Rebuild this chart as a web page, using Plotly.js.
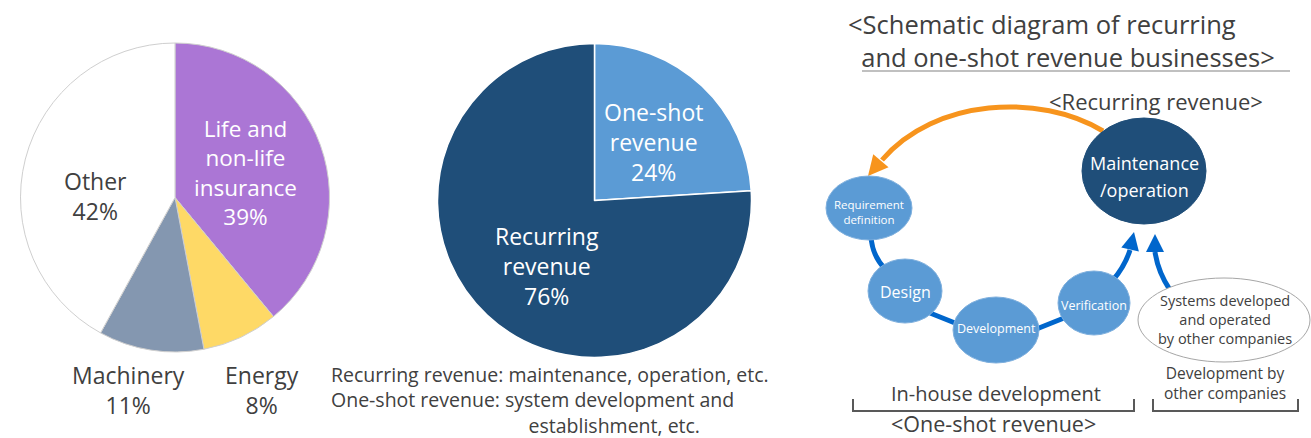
<!DOCTYPE html>
<html>
<head>
<meta charset="utf-8">
<script src="https://cdn.plot.ly/plotly-3.0.1.min.js"></script>
<style>html,body{margin:0;padding:0;background:#fff;}#chart{width:1311px;height:438px;}</style>
</head>
<body>
<div id="chart"></div>
<script>
// ---- data ----
const industryLabels = ['Life and<br>non-life<br>insurance', 'Energy', 'Machinery', 'Other'];
const industryShares = [39, 8, 11, 42];
const industryColors = ['#AB76D5', '#FED966', '#8497B0', '#FFFFFF'];

const revenueLabels = ['One-shot<br>revenue', 'Recurring<br>revenue'];
const revenueShares = [24, 76];
const revenueColors = ['#5B9BD5', '#1F4E79'];

const captionLines = ['Recurring revenue: maintenance, operation, etc.', 'One-shot revenue: system development and', 'establishment, etc.'];
const schematicTitle = ['&lt;Schematic diagram of recurring', '&nbsp;&nbsp;and one-shot revenue businesses&gt;'];
const processSteps = ['Requirement<br>definition', 'Design', 'Development', 'Verification'];
const recurringStep = 'Maintenance<br>/operation';
const otherCompanies = 'Systems developed<br>and operated<br>by other companies';

// ---- helpers (pixel -> paper) ----
const W = 1311, H = 438;
const px = x => x / W;
const py = y => 1 - y / H;
const FONT = '"Open Sans", Lato, sans-serif';
const DARK = '#404040';

function pathStr(cmds) {
  return cmds.map(c => c[0] + ' ' + c.slice(1).map((v, i) => i % 2 === 0 ? px(v) : py(v)).join(' ')).join(' ');
}
function arrowHead(tx, ty, fx, fy, len, hw, color) {
  const dx = tx - fx, dy = ty - fy, d = Math.hypot(dx, dy);
  const ux = dx / d, uy = dy / d;
  const bx = tx - ux * len, by = ty - uy * len;
  const nx = -uy, ny = ux;
  return {type: 'path', xref: 'paper', yref: 'paper',
    path: pathStr([['M', tx, ty], ['L', bx + nx * hw, by + ny * hw], ['L', bx - nx * hw, by - ny * hw]]) + ' Z',
    fillcolor: color, line: {width: 0}};
}
function curve(cmds, color, width) {
  return {type: 'path', xref: 'paper', yref: 'paper', path: pathStr(cmds), line: {color: color, width: width}};
}
function ellipse(cx, cy, rx, ry, fill, lineColor, lw) {
  return {type: 'circle', xref: 'paper', yref: 'paper', x0: px(cx - rx), x1: px(cx + rx), y0: py(cy + ry), y1: py(cy - ry),
    fillcolor: fill, line: {color: lineColor, width: lw}};
}
function ann(text, x, y, size, color, extra) {
  return Object.assign({text: text, x: px(x), y: py(y), xref: 'paper', yref: 'paper', showarrow: false,
    xanchor: 'center', yanchor: 'middle', borderpad: 0, font: {family: FONT, size: size, color: color}}, extra || {});
}

// ---- traces ----
const traces = [
  {type: 'pie', labels: industryLabels, values: industryShares, sort: false, direction: 'clockwise', rotation: 0,
   marker: {colors: industryColors, line: {color: '#cfcfcf', width: 1}}, textinfo: 'none', hoverinfo: 'none',
   domain: {x: [px(20.5), px(329.5)], y: [py(352), py(43)]}},
  {type: 'pie', labels: revenueLabels, values: revenueShares, sort: false, direction: 'clockwise', rotation: 0,
   marker: {colors: revenueColors, line: {color: '#ffffff', width: 1.5}}, textinfo: 'none', hoverinfo: 'none',
   domain: {x: [px(437.5), px(751.5)], y: [py(357.5), py(43.5)]}}
];

// ---- annotations ----
const A = [];
// [x centre, y centre, colour, font size]
const pieLabelPos1 = [[245, 172, '#ffffff', 22.5], [262, 390, DARK, 23], [128, 390, DARK, 23], [95, 196, DARK, 23]];
const pieLabelPos2 = [[653, 142, '#ffffff', 23], [547, 266, '#ffffff', 23]];
industryLabels.forEach((l, i) => {
  const p = pieLabelPos1[i];
  A.push(ann(l + '<br>' + industryShares[i] + '%', p[0], p[1], p[3], p[2]));
});
revenueLabels.forEach((l, i) => {
  const p = pieLabelPos2[i];
  A.push(ann(l + '<br>' + revenueShares[i] + '%', p[0], p[1], p[3], p[2]));
});
// caption: third line indented under the colon
const capSize = 19.5;
const indent = '&nbsp;'.repeat(Math.round(198 / (0.26 * capSize)));
A.push(ann(captionLines[0] + '<br>' + captionLines[1] + '<br>' + indent + captionLines[2], 330, 400, capSize, DARK,
  {xanchor: 'left', align: 'left'}));

// schematic texts
A.push(ann(schematicTitle.join('<br>'), 847, 41, 25.5, DARK, {xanchor: 'left', align: 'left'}));
A.push(ann('&lt;Recurring revenue&gt;', 1156, 101, 22, DARK));
recurringStep.split('<br>').forEach((t, i) => A.push(ann(t, 1144, 163 + 27 * i, 18, '#ffffff')));
const stepPos = [[869, 212, 11.5], [905, 292, 16], [996, 328, 12.5], [1094, 305, 12.5]];
processSteps.forEach((s, i) => A.push(ann(s, stepPos[i][0], stepPos[i][1], stepPos[i][2], '#ffffff')));
A.push(ann(otherCompanies, 1225, 319, 14.5, DARK));
A.push(ann('In-house development', 996, 393, 20, DARK));
A.push(ann('Development by<br>other companies', 1225, 383, 15.5, DARK));
A.push(ann('&lt;One-shot revenue&gt;', 993, 423, 21.5, DARK));

// ---- shapes ----
const BLUE = '#0066CC', ORANGE = '#F7941D';
const shapes = [
  {type: 'line', xref: 'paper', yref: 'paper', x0: px(862), x1: px(1290), y0: py(71), y1: py(71), line: {color: '#c0c0c0', width: 2}},
  curve([['M', 871, 236], ['Q', 872, 256, 886, 270]], BLUE, 5),
  curve([['M', 930, 313], ['L', 960, 325]], BLUE, 5),
  curve([['M', 1034, 330], ['L', 1064, 318]], BLUE, 5),
  curve([['M', 1113, 280], ['Q', 1125, 266, 1130, 250]], BLUE, 5),
  curve([['M', 1170, 290], ['Q', 1158, 272, 1155, 252]], BLUE, 5),
  arrowHead(1134, 232, 1130, 250, 18, 9, BLUE),
  arrowHead(1155, 234, 1155, 252, 18, 9, BLUE),
  curve([['M', 1103, 131], ['C', 1040, 93, 935, 98, 882, 160]], ORANGE, 5),
  arrowHead(868, 176, 884, 157, 20, 10, ORANGE),
  ellipse(1144, 171, 62, 53, '#1F4E79', '#1F4E79', 1),
  ellipse(869, 208, 43, 32, '#5B9BD5', '#7fb0de', 1),
  ellipse(905, 291, 37, 32, '#5B9BD5', '#7fb0de', 1),
  ellipse(996, 330, 43, 33, '#5B9BD5', '#7fb0de', 1),
  ellipse(1094, 303, 36, 32, '#5B9BD5', '#7fb0de', 1),
  ellipse(1224, 320, 86, 42, '#ffffff', '#a6a6a6', 1),
  curve([['M', 853, 399], ['L', 853, 411], ['L', 1134, 411], ['L', 1134, 399]], '#595959', 2),
  curve([['M', 1153, 399], ['L', 1153, 411], ['L', 1298, 411], ['L', 1298, 399]], '#595959', 2)
];

const layout = {
  width: W, height: H, margin: {l: 0, r: 0, t: 0, b: 0},
  paper_bgcolor: '#ffffff', plot_bgcolor: '#ffffff', showlegend: false,
  font: {family: FONT, color: DARK},
  annotations: A, shapes: shapes
};

Plotly.newPlot('chart', traces, layout, {displayModeBar: false, staticPlot: true});
</script>
</body>
</html>
